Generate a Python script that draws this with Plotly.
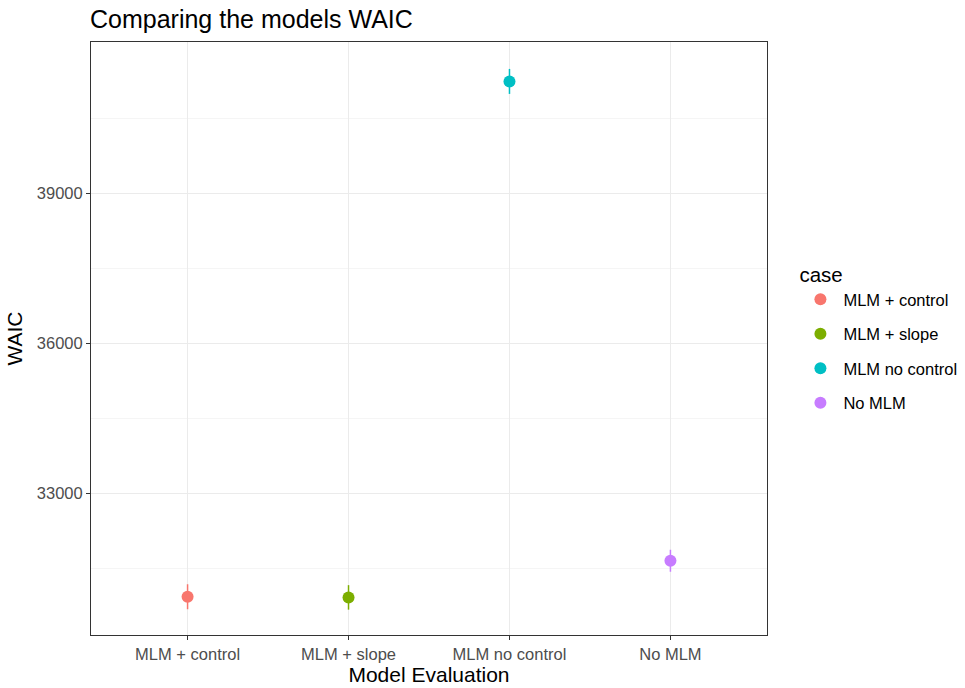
import plotly.graph_objects as go

cases = ["MLM + control", "MLM + slope", "MLM no control", "No MLM"]
waic = [30925, 30912, 41232, 31645]
se = [250, 245, 250, 220]
colors = ["#F8766D", "#7CAE00", "#00BFC4", "#C77CFF"]

major_ticks = [33000, 36000, 39000]
minor_ticks = [31500, 34500, 37500, 40500]

fig = go.Figure()
for c, w, s, col in zip(cases, waic, se, colors):
    fig.add_trace(go.Scatter(
        x=[c], y=[w], mode="markers", name=c, legendgroup=c,
        marker=dict(color=col, size=12),
        error_y=dict(type="data", array=[s], color=col, thickness=1.5, width=0),
    ))

font = "Liberation Sans, Arial, sans-serif"
fig.update_layout(
    width=965, height=688,
    margin=dict(l=91, r=198, t=42, b=53, autoexpand=False),
    paper_bgcolor="white", plot_bgcolor="white",
    font=dict(family=font, color="black"),
    title=dict(text="Comparing the models WAIC", x=90/965, xanchor="left",
               y=1 - 19/688, yanchor="middle", font=dict(size=25, color="black")),
    legend=dict(title=dict(text="case", font=dict(size=20.5)), font=dict(size=16.5),
                x=1.045, xanchor="left", y=0.64, yanchor="top",
                itemsizing="constant", itemwidth=36, tracegroupgap=10),
    showlegend=True,
)
fig.update_xaxes(
    categoryorder="array", categoryarray=cases, range=[-0.6, 3.6],
    showgrid=True, gridcolor="#EBEBEB", gridwidth=1,
    showline=True, linecolor="#333333", linewidth=1, mirror=True,
    ticks="outside", ticklen=4, tickcolor="#333333",
    tickfont=dict(size=16.5, color="#4D4D4D"),
    title=dict(text="Model Evaluation", font=dict(size=21), standoff=4),
    zeroline=False, automargin=False,
)
fig.update_yaxes(
    range=[30160, 42020],
    tickmode="array", tickvals=major_ticks, ticktext=[str(v) for v in major_ticks],
    showgrid=True, gridcolor="#EBEBEB", gridwidth=1,
    minor=dict(tickmode="array", tickvals=minor_ticks, showgrid=True,
               gridcolor="#F5F5F5", gridwidth=1, ticks=""),
    showline=True, linecolor="#333333", linewidth=1, mirror=True,
    ticks="outside", ticklen=4, tickcolor="#333333",
    tickfont=dict(size=16.5, color="#4D4D4D"),
    title=dict(text="WAIC", font=dict(size=21), standoff=8),
    zeroline=False, automargin=False,
)

fig.write_html("out.html")
